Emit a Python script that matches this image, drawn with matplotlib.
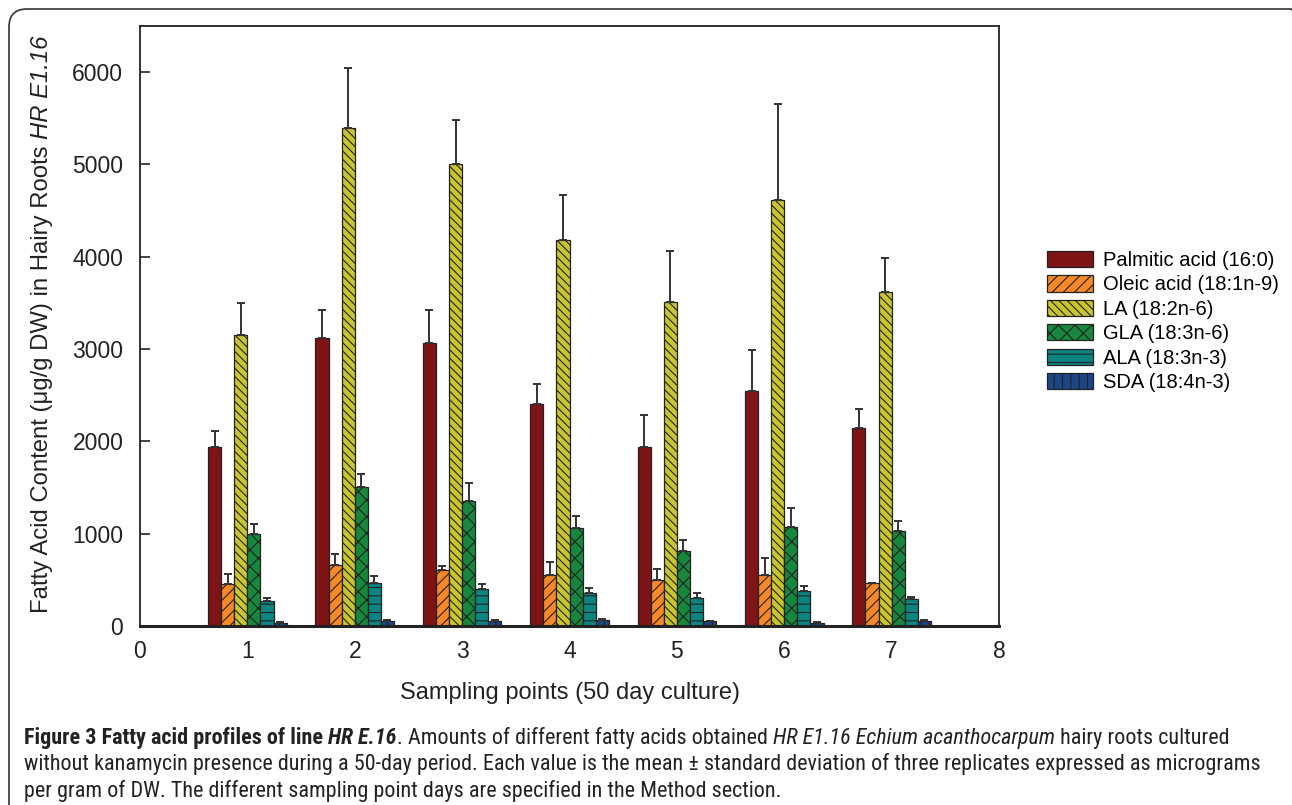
import matplotlib
matplotlib.use('Agg')
import matplotlib.pyplot as plt
import numpy as np
from matplotlib import font_manager
from matplotlib.patches import FancyBboxPatch
from matplotlib.transforms import IdentityTransform

# sampling points and fatty acid series (mean, sd) in ug/g DW
points = [1, 2, 3, 4, 5, 6, 7]
names = ['Palmitic acid (16:0)', 'Oleic acid (18:1n-9)', 'LA (18:2n-6)',
         'GLA (18:3n-6)', 'ALA (18:3n-3)', 'SDA (18:4n-3)']

palmitic = [1940, 3115, 3065, 2410, 1940, 2550, 2140]
palmitic_sd = [170, 305, 360, 215, 345, 440, 210]
oleic = [455, 665, 610, 555, 500, 555, 465]
oleic_sd = [105, 115, 45, 135, 120, 185, 5]
la = [3155, 5400, 5010, 4185, 3505, 4620, 3620]
la_sd = [340, 640, 475, 480, 560, 1030, 365]
gla = [995, 1505, 1355, 1060, 815, 1075, 1030]
gla_sd = [110, 140, 190, 130, 120, 205, 105]
ala = [275, 470, 400, 355, 300, 380, 295]
ala_sd = [30, 75, 55, 55, 60, 50, 18]
sda = [35, 58, 58, 66, 50, 33, 50]
sda_sd = [12, 12, 8, 10, 5, 5, 20]

means = [palmitic, oleic, la, gla, ala, sda]
sds = [palmitic_sd, oleic_sd, la_sd, gla_sd, ala_sd, sda_sd]
colors = ['#7f1417', '#f7882a', '#c9c52f', '#17873d', '#0c8482', '#1c4586']
hatches = ['', '///', '\\\\\\\\', 'xx', '--', '||']

plt.rcParams['font.family'] = ['Liberation Sans', 'DejaVu Sans']
plt.rcParams['hatch.linewidth'] = 0.8

fig = plt.figure(figsize=(12.92, 8.05), dpi=100)
ax = fig.add_axes([140/1292, 179/805, 859/1292, 600/805])

width = 0.122
x = np.array(points, dtype=float)
for i in range(len(names)):
    xi = x + (i - 2.5) * width
    ax.bar(xi, means[i], width, color=colors[i], edgecolor='#222222',
           linewidth=0.9, hatch=hatches[i], label=names[i], zorder=2)
    ax.errorbar(xi, means[i], yerr=[np.zeros(len(points)), sds[i]], fmt='none',
                ecolor='#333333', elinewidth=1.4, capsize=3, capthick=1.4, zorder=3)

ax.set_xlim(0, 8)
ax.set_ylim(0, 6500)
ax.set_yticks([0, 1000, 2000, 3000, 4000, 5000, 6000])
ax.set_xticks([0, 1, 2, 3, 4, 5, 6, 7, 8])
ax.tick_params(axis='y', direction='in', length=7, width=1.2, pad=12,
               labelsize=16.5, colors='#222222')
ax.tick_params(axis='x', length=0, pad=10, labelsize=16.5, colors='#222222')
for s in ['left', 'top', 'right']:
    ax.spines[s].set_linewidth(1.3)
    ax.spines[s].set_color('#222222')
ax.spines['bottom'].set_linewidth(2.2)
ax.spines['bottom'].set_color('#222222')

ax.set_xlabel('Sampling points (50 day culture)', fontsize=17, color='#222222')
ax.xaxis.set_label_coords(0.5, -0.093)

ax.legend(loc='upper left', bbox_to_anchor=(1047/1292, 554/805),
          bbox_transform=fig.transFigure, frameon=False, fontsize=14.5,
          handlelength=2.3, handleheight=0.85, handletextpad=0.5,
          labelspacing=0.27, borderpad=0, borderaxespad=0)

renderer = fig.canvas.get_renderer()

# y label with italic line name
t1 = fig.text(42, 192, 'Fatty Acid Content (\u03bcg/g DW) in Hairy Roots ',
              rotation=90, ha='center', va='bottom', fontsize=17.2,
              color='#222222', transform=IdentityTransform())
bb = t1.get_window_extent(renderer)
fig.text(42, bb.y1, 'HR E1.16', rotation=90, ha='center', va='bottom',
         fontsize=17.2, fontstyle='italic', color='#222222',
         transform=IdentityTransform())

# rounded frame round the figure, right and bottom edges fall off the canvas
frame = FancyBboxPatch((9, -40), 1300, 836, boxstyle='round,pad=0,rounding_size=18',
                       transform=IdentityTransform(), facecolor='none',
                       edgecolor='#333333', linewidth=1.2, zorder=0)
fig.patches.append(frame)

# caption font: a narrow one if there is any
available = sorted({f.name for f in font_manager.fontManager.ttflist})
cap_font = 'Open Sans'
for cand in ['Liberation Sans Narrow', 'Roboto Condensed', 'Open Sans Condensed',
             'Noto Sans Condensed', 'DejaVu Sans Condensed']:
    if cand in available:
        cap_font = cand
        break

lines = [
    [('Figure 3 Fatty acid profiles of line ', 'bold', 'normal'),
     ('HR E.16', 'bold', 'italic'),
     ('. Amounts of different fatty acids obtained ', 'normal', 'normal'),
     ('HR E1.16 Echium acanthocarpum', 'normal', 'italic'),
     (' hairy roots cultured', 'normal', 'normal')],
    [('without kanamycin presence during a 50-day period. Each value is the mean \u00b1 standard deviation of three replicates expressed as micrograms',
      'normal', 'normal')],
    [('per gram of DW. The different sampling point days are specified in the Method section.',
      'normal', 'normal')],
]

# fit caption size so the second line ends where it does in the figure
probe = fig.text(0, 0, lines[1][0][0], fontsize=12, family=cap_font,
                 transform=IdentityTransform())
w = probe.get_window_extent(renderer).width
probe.remove()
cap_size = 12 * 1232 / w

baselines = [805 - 744, 805 - 770, 805 - 797]
for runs, yb in zip(lines, baselines):
    xc = 24
    for text, weight, style in runs:
        t = fig.text(xc, yb, text, fontsize=cap_size, family=cap_font,
                     fontweight=weight, fontstyle=style, color='#222222',
                     va='baseline', transform=IdentityTransform())
        xc = t.get_window_extent(renderer).x1

fig.savefig('out.png', dpi=100)
